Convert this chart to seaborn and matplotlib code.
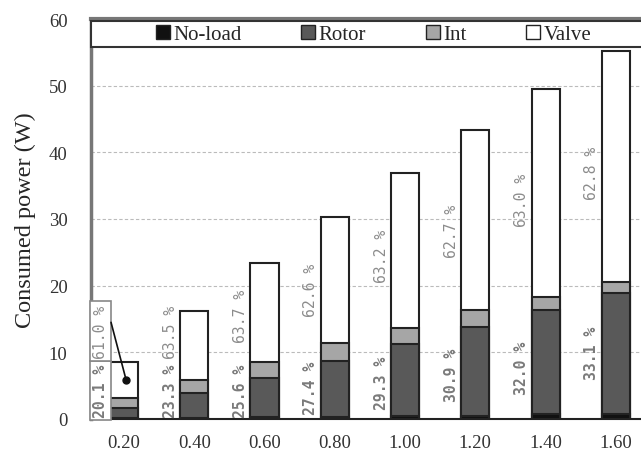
import numpy as np
import pandas as pd
import matplotlib
matplotlib.use("Agg")
import matplotlib.pyplot as plt
import seaborn as sns
from matplotlib.lines import Line2D
from matplotlib.patches import Rectangle

# ---- data ----
categories = ["0.20", "0.40", "0.60", "0.80", "1.00", "1.20", "1.40", "1.60"]
noload = [0.2, 0.2, 0.25, 0.35, 0.4, 0.5, 0.7, 0.7]
rotor = [1.4, 3.7, 5.85, 8.3, 10.8, 13.35, 15.65, 18.2]
intp = [1.6, 1.9, 2.5, 2.7, 2.4, 2.45, 1.95, 1.6]
valve = [5.3, 10.35, 14.8, 18.95, 23.3, 27.0, 31.2, 34.7]
rotor_pct = [20.1, 23.3, 25.6, 27.4, 29.3, 30.9, 32.0, 33.1]
valve_pct = [61.0, 63.5, 63.7, 62.6, 63.2, 62.7, 63.0, 62.8]

# label anchor heights (bottom of rotated text, in W)
rotor_lbl_y = [0.3, 0.3, 0.3, 0.75, 1.5, 2.75, 3.75, 6.0]
valve_lbl_y = [9.2, 9.2, 11.5, 15.5, 20.5, 24.3, 29.0, 33.0]

sns.set_style("white")
plt.rcParams["font.family"] = ["Liberation Serif", "DejaVu Serif"]

df = pd.DataFrame({"cat": categories, "noload": noload, "rotor": rotor,
                   "int": intp, "valve": valve})
df["c1"] = df["noload"]
df["c2"] = df["c1"] + df["rotor"]
df["c3"] = df["c2"] + df["int"]
df["c4"] = df["c3"] + df["valve"]

fig = plt.figure(figsize=(6.41, 4.56), dpi=100)
ax = fig.add_axes([91 / 641, 36 / 456, 560 / 641, 400 / 456])

colors = {"c4": "#ffffff", "c3": "#a6a6a6", "c2": "#595959", "c1": "#111111"}
for col in ["c4", "c3", "c2", "c1"]:
    sns.barplot(data=df, x="cat", y=col, order=categories, color=colors[col],
                width=0.4, edgecolor="#222222", linewidth=1.5, saturation=1,
                ax=ax, zorder=3)

ax.set_xlim(-0.47, 7.5)
ax.set_ylim(0, 60)
ax.set_yticks(np.arange(0, 61, 10))
ax.set_xlabel("")
ax.set_ylabel("Consumed power (W)", fontsize=17.5, labelpad=9)
ax.tick_params(axis="both", length=0, labelsize=13.5, colors="#222222")
ax.tick_params(axis="x", pad=11)
ax.tick_params(axis="y", pad=17)
for lab in ax.get_yticklabels() + ax.get_xticklabels():
    lab.set_color("#333333")

ax.yaxis.grid(True, linestyle=(0, (3, 2)), color="#bbbbbb", linewidth=0.8, zorder=0)
ax.set_axisbelow(True)

ax.spines["left"].set_color("#777777")
ax.spines["left"].set_linewidth(2.5)
ax.spines["top"].set_color("#777777")
ax.spines["top"].set_linewidth(3)
ax.spines["bottom"].set_color("#222222")
ax.spines["bottom"].set_linewidth(1.5)
ax.spines["right"].set_visible(False)

# legend band
band = Rectangle((0, 0.93), 1.0, 0.065, transform=ax.transAxes,
                 facecolor="white", edgecolor="#333333", linewidth=1.5,
                 zorder=5, clip_on=False)
ax.add_patch(band)
handles = [Line2D([], [], marker="s", linestyle="none", markersize=10,
                  markerfacecolor=c, markeredgecolor="#222222", markeredgewidth=1)
           for c in ["#111111", "#595959", "#a6a6a6", "#ffffff"]]
leg = ax.legend(handles, ["No-load", "Rotor", "Int", "Valve"], ncol=4,
                loc="center", bbox_to_anchor=(0.503, 0.962), frameon=False,
                fontsize=15, handletextpad=0.1, columnspacing=2.8,
                handlelength=0.8)
leg.set_zorder(6)

# percentage labels
mono = ["DejaVu Sans Mono"]
for i in range(len(categories)):
    kw_r = dict(rotation=90, ha="center", va="bottom", fontsize=10.6,
                family=mono, fontweight="bold", color="#7a7a7a", zorder=4)
    kw_v = dict(rotation=90, ha="center", va="bottom", fontsize=10.6,
                family=mono, color="#8c8c8c", zorder=4)
    if i == 0:
        box = dict(boxstyle="square,pad=0.2", fc="white", ec="#888888", lw=1.2)
        kw_r["bbox"] = box
        kw_v["bbox"] = box
    ax.text(i - 0.34, rotor_lbl_y[i], f"{rotor_pct[i]:.1f} %", **kw_r)
    ax.text(i - 0.34, valve_lbl_y[i], f"{valve_pct[i]:.1f} %", **kw_v)

# leader line from the 61.0 % box into the first valve segment
leader_x = [-0.185, 0.03]
leader_y = [14.5, 5.85]
ax.plot(leader_x, leader_y, color="#111111", linewidth=1.2, zorder=6)
ax.plot(leader_x[1:], leader_y[1:], marker="o", markersize=5, color="#111111", zorder=6)

fig.savefig("out.png", dpi=100)
